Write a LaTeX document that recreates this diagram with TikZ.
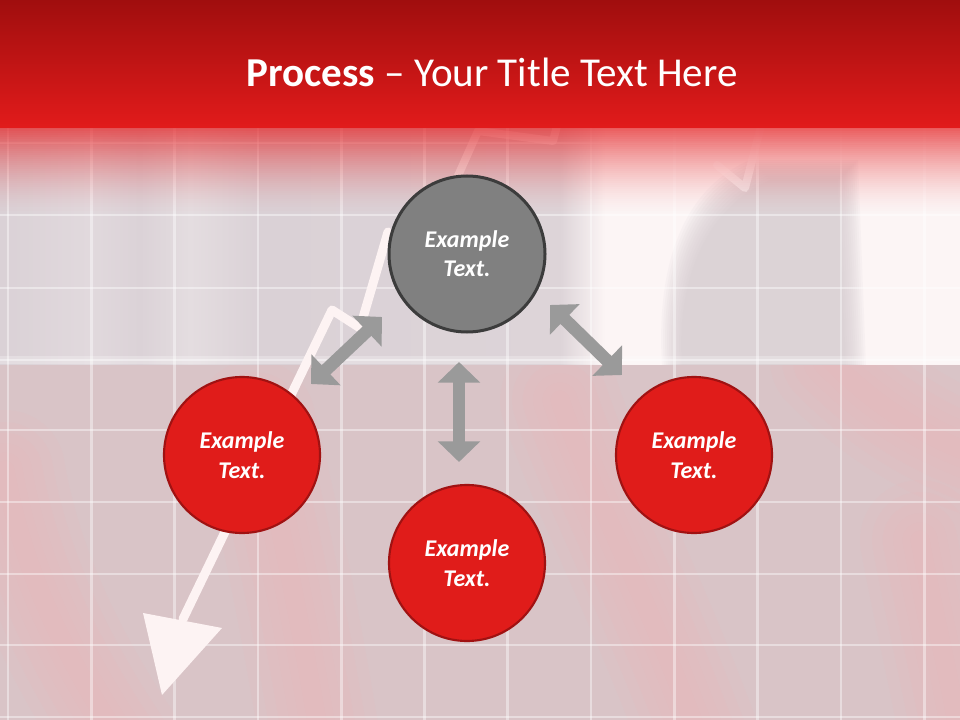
\documentclass[tikz,border=0pt]{standalone}
\usepackage{fontspec}
\setmainfont{Carlito}
\usetikzlibrary{arrows.meta}
\definecolor{bandtop}{RGB}{160,14,14}
\definecolor{bandbot}{RGB}{226,27,27}
\definecolor{fadered}{RGB}{228,32,34}
\definecolor{upg1}{HTML}{DAD1D6}
\definecolor{upg2}{HTML}{E1D9DD}
\definecolor{upg3}{HTML}{DBD2D7}
\definecolor{upg4}{HTML}{E4DDE0}
\definecolor{upg5}{HTML}{DAD1D6}
\definecolor{upg6}{HTML}{DDD4D8}
\definecolor{upwhite}{HTML}{FCF5F5}
\definecolor{domegray}{HTML}{D3C9CE}
\definecolor{lowbg}{HTML}{D9C4C7}
\definecolor{streakpink}{HTML}{F4B4B7}
\definecolor{chartwhite}{HTML}{FDF3F3}
\definecolor{arrowgray}{HTML}{9A9A9A}
\definecolor{circred}{RGB}{224,28,26}
\definecolor{circredline}{RGB}{160,18,18}
\definecolor{circgray}{HTML}{808080}
\definecolor{circgrayline}{HTML}{3C3C3C}
\begin{document}
\begin{tikzpicture}[x=0.75pt,y=-0.75pt,
  gridline/.style={draw=white, opacity=0.42, line width=2pt},
  streak/.style={draw=streakpink, line cap=round, opacity=0.09},
  chartline/.style={draw=chartwhite, line width=6.75pt, line cap=round, line join=round},
  faintchart/.style={draw=white, opacity=0.55, line width=6pt, line cap=round, line join=round},
  garrow/.style={draw=arrowgray, line width=9.5pt,
    {Triangle[width=31pt,length=15.5pt]}-{Triangle[width=31pt,length=15.5pt]}},
  bubble/.style={circle, minimum size=117pt, inner sep=0pt, align=center,
    text=white, font=\fontsize{18}{22}\selectfont\bfseries\itshape},
  redbubble/.style={bubble, fill=circred, draw=circredline, line width=1.6pt},
  graybubble/.style={bubble, fill=circgray, draw=circgrayline, line width=2.25pt}
]
\useasboundingbox (0,0) rectangle (960,720);
% ---- upper background region
\shade[left color=upg1, right color=upg2] (0,120) rectangle (90,366);
\shade[left color=upg2, right color=upg3] (90,120) rectangle (140,366);
\shade[left color=upg3, right color=upg4] (140,120) rectangle (190,366);
\shade[left color=upg4, right color=upg5] (190,120) rectangle (260,366);
\shade[left color=upg5, right color=upg6] (260,120) rectangle (560,366);
\shade[left color=upg6, right color=upwhite] (560,120) rectangle (605,366);
\fill[upwhite] (605,120) rectangle (960,366);
% soft gray dome on the right
\foreach \d in {0,2,...,20} {
  \fill[domegray, opacity=0.1]
    (662+\d,366) .. controls (656+\d,270+\d) and (680+\d,190+\d) .. (750+\d,160+\d)
    -- (858-\d,160+\d) -- (866-\d,366) -- cycle;
}
% ---- lower background region
\fill[lowbg] (0,365) rectangle (960,720);
\begin{scope}
  \clip (0,365) rectangle (960,720);
  \foreach \w in {90,72,56,40,26,14} {
    \draw[streak, line width=\w pt] (5,470) .. controls (20,560) and (60,650) .. (120,740);
    \draw[streak, line width=\w pt] (255,420) .. controls (280,520) and (300,620) .. (320,740);
    \draw[streak, line width=\w pt] (560,400) .. controls (590,490) and (640,580) .. (700,740);
    \draw[streak, line width=\w pt] (830,360) .. controls (880,410) and (930,440) .. (990,460);
    \draw[streak, line width=\w pt] (920,540) .. controls (935,620) and (950,680) .. (960,740);
  }
\end{scope}
% thin light edge at the boundary
\fill[white, opacity=0.25] (0,356) rectangle (960,364);
% ---- grid
\foreach \gx in {8,91.3,174.6,257.9,341.2,424.5,507.8,591.1,674.4,757.7,841,924.3}
  \draw[gridline] (\gx,125) -- (\gx,720);
\foreach \gy in {143,215,288,360,430,502,574,645,717}
  \draw[gridline] (0,\gy) -- (960,\gy);
% faint chart segments near the top
\draw[faintchart] (457,178) -- (478,131) -- (553,141) -- (558,122);
\draw[faintchart] (717,165) -- (745,188) -- (762,122);
% ---- red fade below the band (strips)
\foreach \i in {0,...,43} {
  \pgfmathsetmacro{\op}{0.72*(1-\i/44)^1.6}
  \fill[fadered, opacity=\op] (0,127+2*\i) rectangle (960,129+2*\i);
}
% ---- top red band
\shade[top color=bandtop, bottom color=bandbot] (0,0) rectangle (960,128);
% ---- main chart line with arrowhead
\draw[chartline] (388,232) -- (360,328) -- (332,310) -- (183,619);
\fill[chartwhite] (143,613) -- (222,628) -- (162,695) -- cycle;
% ---- title
\node[text=white, anchor=base] (title) at (492,87)
  {\fontsize{30.8}{37}\selectfont\textbf{Process} – Your Title Text Here};
% ---- circles
\node[graybubble] (top) at (467,254) {Example\\Text.};
\node[redbubble] (left) at (242,455) {Example\\Text.};
\node[redbubble] (bottom) at (467,563) {Example\\Text.};
\node[redbubble] (right) at (694,455) {Example\\Text.};
% ---- gray double arrows
\coordinate (a1s) at (382,317);
\coordinate (a1e) at (311,384);
\coordinate (a2s) at (459,362);
\coordinate (a2e) at (459,462);
\coordinate (a3s) at (550,305);
\coordinate (a3e) at (622,375);
\draw[garrow] (a1s) -- (a1e);
\draw[garrow] (a2s) -- (a2e);
\draw[garrow] (a3s) -- (a3e);
\end{tikzpicture}
\end{document}
